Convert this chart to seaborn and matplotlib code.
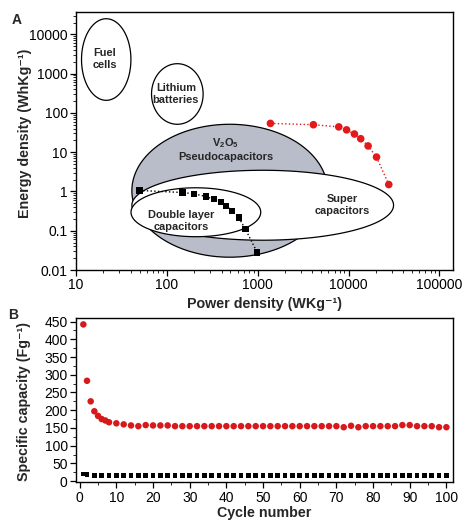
import numpy as np
import pandas as pd
import matplotlib
matplotlib.use("Agg")
import matplotlib.pyplot as plt
from matplotlib.ticker import MultipleLocator, LogLocator, NullFormatter
import seaborn as sns

# ---- 数据 (A: Ragone 图) ----
v2o5_power = [1380, 4100, 7800, 9500, 11600, 13600, 16400, 20300, 27700]
v2o5_energy = [54, 50, 44, 37, 29, 22, 14.4, 7.5, 1.5]
dl_power = [50, 149, 200, 270, 328, 397, 451, 522, 618, 733, 988]
dl_energy = [1.06, 0.94, 0.87, 0.74, 0.63, 0.54, 0.43, 0.32, 0.217, 0.109, 0.028]

# 区域范围 (功率 min/max, 能量 min/max)
region_names = ["V$_2$O$_5$\nPseudocapacitors", "Super\ncapacitors",
                "Double layer\ncapacitors", "Fuel\ncells", "Lithium\nbatteries"]
region_power = [(41.2, 5875), (41.2, 31260), (40.3, 1079), (11.5, 40.2), (67.8, 250.6)]
region_energy = [(0.0212, 51.3), (0.0574, 3.46), (0.0705, 1.24), (209, 24950), (51.3, 1787)]
region_fill = ["#b9bdc9", "white", "white", "white", "white"]
label_power = [445, 8590, 142.6, 20.8, 125.6]
label_energy = [11.9, 0.446, 0.175, 2380, 303]

# ---- 数据 (B: 循环稳定性) ----
red_cycles = list(range(1, 9)) + list(range(10, 101, 2))
red_capacity = [442, 283, 225, 197, 184, 175, 171, 166,
                163, 160, 157, 155, 158, 157, 157, 157, 155, 155,
                155, 155, 155, 155, 155, 155, 155, 155, 155, 155,
                155, 155, 155, 155, 155, 155, 155, 155, 155, 155,
                155, 152, 156, 152, 155, 155, 155, 155, 155, 158,
                158, 155, 155, 155, 152, 152]
black_cycles = [1] + list(range(2, 101, 2))
black_capacity = [20, 18] + [16] * 10 + [15] * 39

sns.set_style("ticks")
plt.rcParams["font.family"] = ["Liberation Sans", "DejaVu Sans"]
plt.rcParams["mathtext.default"] = "regular"
plt.rcParams["xtick.direction"] = "out"
plt.rcParams["ytick.direction"] = "out"

fig = plt.figure(figsize=(4.73, 5.24), dpi=100)
ax1 = fig.add_axes([0.1607, 0.4847, 0.797, 0.4923])
ax2 = fig.add_axes([0.1607, 0.0792, 0.797, 0.3138])

# ---- 图 A ----
ax1.set_xscale("log")
ax1.set_yscale("log")
t = np.linspace(0, 2 * np.pi, 300)
for name, pw, en, fc, lx, ly in zip(region_names, region_power, region_energy,
                                     region_fill, label_power, label_energy):
    cx, hw = np.mean(np.log10(pw)), np.diff(np.log10(pw))[0] / 2
    cy, hh = np.mean(np.log10(en)), np.diff(np.log10(en))[0] / 2
    ax1.fill(10 ** (cx + hw * np.cos(t)), 10 ** (cy + hh * np.sin(t)),
             facecolor=fc, edgecolor="black", linewidth=0.9)
    ax1.text(lx, ly, name, ha="center", va="center", fontsize=7.9,
             fontweight="bold", linespacing=1.2)

df_v = pd.DataFrame({"p": v2o5_power, "e": v2o5_energy})
df_d = pd.DataFrame({"p": dl_power, "e": dl_energy})
sns.lineplot(data=df_v, x="p", y="e", sort=False, ax=ax1, color="#e31a1c",
             linestyle=":", linewidth=1, zorder=4)
sns.scatterplot(data=df_v, x="p", y="e", ax=ax1, color="#e31a1c", s=30,
                marker="o", edgecolor="none", zorder=5)
sns.lineplot(data=df_d, x="p", y="e", sort=False, ax=ax1, color="black",
             linestyle=":", linewidth=1, zorder=4)
sns.scatterplot(data=df_d, x="p", y="e", ax=ax1, color="black", s=20,
                marker="s", edgecolor="none", zorder=5)

ax1.set_xlim(10, 141000)
ax1.set_ylim(0.01, 36900)
ax1.set_xticks([10, 100, 1000, 10000, 100000])
ax1.set_xticklabels(["10", "100", "1000", "10000", "100000"])
ax1.set_yticks([0.01, 0.1, 1, 10, 100, 1000, 10000])
ax1.set_yticklabels(["0.01", "0.1", "1", "10", "100", "1000", "10000"])
ax1.xaxis.set_minor_locator(LogLocator(base=10, subs=np.arange(2, 10)))
ax1.yaxis.set_minor_locator(LogLocator(base=10, subs=np.arange(2, 10)))
ax1.xaxis.set_minor_formatter(NullFormatter())
ax1.yaxis.set_minor_formatter(NullFormatter())
ax1.set_xlabel("Power density (WKg⁻¹)", fontsize=10.3, fontweight="bold", labelpad=3)
ax1.set_ylabel("Energy density (WhKg⁻¹)", fontsize=10.3, fontweight="bold")
ax1.yaxis.set_label_coords(-0.117, 0.53)

# ---- 图 B ----
df_r = pd.DataFrame({"c": red_cycles, "cap": red_capacity})
df_b = pd.DataFrame({"c": black_cycles, "cap": black_capacity})
sns.scatterplot(data=df_r, x="c", y="cap", ax=ax2, color="#d7191c", s=22,
                marker="o", edgecolor="none", zorder=5)
sns.scatterplot(data=df_b, x="c", y="cap", ax=ax2, color="black", s=12,
                marker="s", edgecolor="none", zorder=5)
ax2.set_xlim(-1, 101.8)
ax2.set_ylim(-4, 460)
ax2.xaxis.set_major_locator(MultipleLocator(10))
ax2.xaxis.set_minor_locator(MultipleLocator(5))
ax2.yaxis.set_major_locator(MultipleLocator(50))
ax2.yaxis.set_minor_locator(MultipleLocator(25))
ax2.set_xlabel("Cycle number", fontsize=10.3, fontweight="bold", labelpad=1)
ax2.set_ylabel("Specific capacity (Fg⁻¹)", fontsize=10.3, fontweight="bold")
ax2.yaxis.set_label_coords(-0.12, 0.49)

for ax in (ax1, ax2):
    for sp in ax.spines.values():
        sp.set_linewidth(1.0)
        sp.set_color("black")
    ax.tick_params(which="major", length=4, width=0.9, labelsize=10, pad=2, colors="black")
    ax.tick_params(which="minor", length=2, width=0.7)
    ax.tick_params(axis="both", which="both", top=False, right=False)

fig.text(0.024, 0.976, "A", fontsize=10, fontweight="bold", va="top")
fig.text(0.018, 0.412, "B", fontsize=10, fontweight="bold", va="top")

fig.savefig("out.png", dpi=100)
